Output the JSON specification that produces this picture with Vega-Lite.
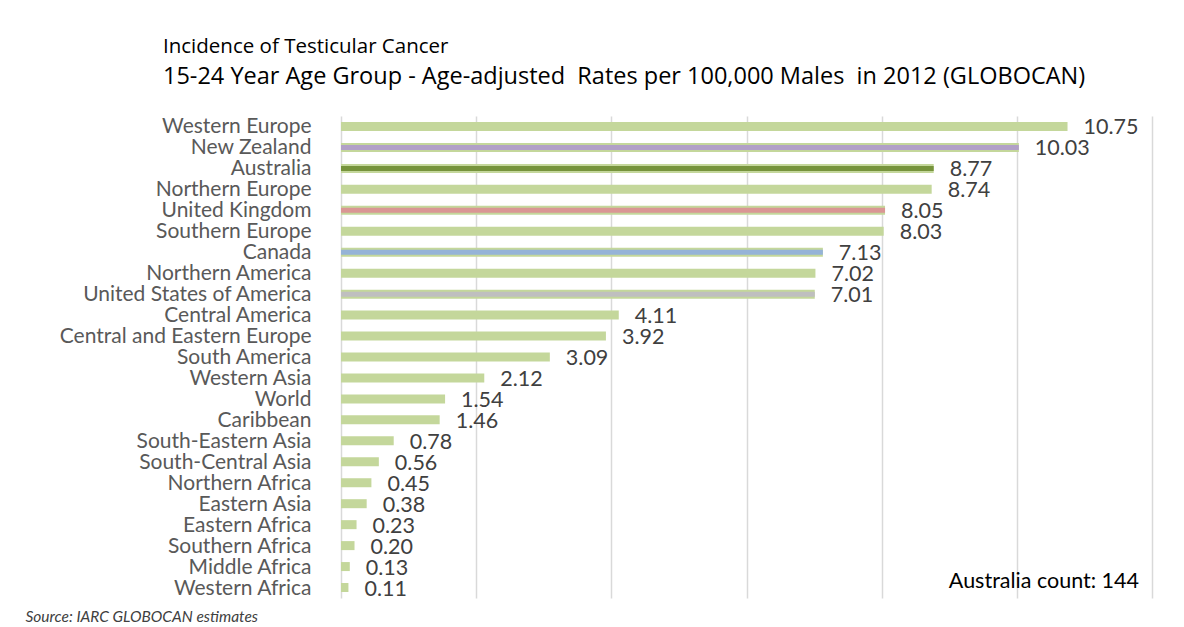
{
  "$schema": "https://vega.github.io/schema/vega-lite/v6.json",
  "width": 811,
  "height": 482,
  "autosize": {"type": "none"},
  "padding": {"left": 341, "top": 116, "right": 32, "bottom": 29},
  "background": "white",
  "title": {
    "text": "Incidence of Testicular Cancer",
    "subtitle": "15-24 Year Age Group - Age-adjusted\u00a0\u00a0Rates per 100,000 Males\u00a0\u00a0in 2012 (GLOBOCAN)",
    "anchor": "start",
    "frame": "group",
    "dx": -178,
    "offset": 27,
    "font": "Open Sans",
    "fontSize": 20.5,
    "fontWeight": "normal",
    "color": "#000000",
    "subtitleFont": "Open Sans",
    "subtitleFontSize": 23.5,
    "subtitleColor": "#000000",
    "subtitlePadding": 8
  },
  "config": {
    "view": {"stroke": null},
    "font": "Lato"
  },
  "data": {
    "values": [
      {"name": "Western Europe", "rate": 10.75, "kind": "region"},
      {"name": "New Zealand", "rate": 10.03, "kind": "country"},
      {"name": "Australia", "rate": 8.77, "kind": "country"},
      {"name": "Northern Europe", "rate": 8.74, "kind": "region"},
      {"name": "United Kingdom", "rate": 8.05, "kind": "country"},
      {"name": "Southern Europe", "rate": 8.03, "kind": "region"},
      {"name": "Canada", "rate": 7.13, "kind": "country"},
      {"name": "Northern America", "rate": 7.02, "kind": "region"},
      {"name": "United States of America", "rate": 7.01, "kind": "country"},
      {"name": "Central America", "rate": 4.11, "kind": "region"},
      {"name": "Central and Eastern Europe", "rate": 3.92, "kind": "region"},
      {"name": "South America", "rate": 3.09, "kind": "region"},
      {"name": "Western Asia", "rate": 2.12, "kind": "region"},
      {"name": "World", "rate": 1.54, "kind": "region"},
      {"name": "Caribbean", "rate": 1.46, "kind": "region"},
      {"name": "South-Eastern Asia", "rate": 0.78, "kind": "region"},
      {"name": "South-Central Asia", "rate": 0.56, "kind": "region"},
      {"name": "Northern Africa", "rate": 0.45, "kind": "region"},
      {"name": "Eastern Asia", "rate": 0.38, "kind": "region"},
      {"name": "Eastern Africa", "rate": 0.23, "kind": "region"},
      {"name": "Southern Africa", "rate": 0.20, "kind": "region"},
      {"name": "Middle Africa", "rate": 0.13, "kind": "region"},
      {"name": "Western Africa", "rate": 0.11, "kind": "region"}
    ]
  },
  "encoding": {
    "y": {
      "field": "name",
      "type": "nominal",
      "sort": null,
      "scale": {"paddingInner": 0, "paddingOuter": 0},
      "axis": {
        "title": null,
        "ticks": false,
        "domain": false,
        "labelFont": "Lato",
        "labelFontSize": 21,
        "labelColor": "#595959",
        "labelPadding": 30,
        "labelLimit": 400,
        "labelBaseline": "middle",
        "labelOffset": 1
      }
    },
    "x": {
      "field": "rate",
      "type": "quantitative",
      "scale": {"domain": [0, 12], "nice": false},
      "axis": {
        "values": [0, 2, 4, 6, 8, 10, 12],
        "labels": false,
        "ticks": false,
        "domain": false,
        "grid": true,
        "gridColor": "#d9d9d9",
        "gridWidth": 1.5,
        "title": "Source: IARC GLOBOCAN estimates",
        "titleFont": "Lato",
        "titleFontSize": 15.5,
        "titleFontStyle": "italic",
        "titleFontWeight": "normal",
        "titleColor": "#404040",
        "titleAlign": "left",
        "titleAnchor": "start",
        "titleBaseline": "middle",
        "titleX": -316,
        "titleY": 18
      }
    }
  },
  "layer": [
    {
      "mark": {"type": "bar", "size": 9, "color": "#c4d79b"}
    },
    {
      "transform": [{"filter": "datum.kind === 'country'"}],
      "mark": {"type": "bar", "size": 5},
      "encoding": {
        "color": {
          "field": "name",
          "type": "nominal",
          "legend": null,
          "scale": {
            "domain": ["New Zealand", "Australia", "United Kingdom", "Canada", "United States of America"],
            "range": ["#b1a0c7", "#76933c", "#da9694", "#95b3d7", "#bfbfbf"]
          }
        }
      }
    },
    {
      "mark": {"type": "text", "align": "left", "baseline": "middle", "dx": 16, "dy": 2, "fontSize": 21.5, "font": "Lato", "color": "#404040"},
      "encoding": {
        "text": {"field": "rate", "type": "quantitative", "format": ".2f"}
      }
    },
    {
      "transform": [{"filter": "datum.name === 'Western Africa'"}],
      "mark": {"type": "text", "align": "right", "baseline": "middle", "dx": -13, "dy": -6, "fontSize": 21.5, "font": "Lato", "color": "#000000"},
      "encoding": {
        "x": {"datum": 12, "type": "quantitative"},
        "text": {"value": "Australia count: 144"}
      }
    }
  ]
}
